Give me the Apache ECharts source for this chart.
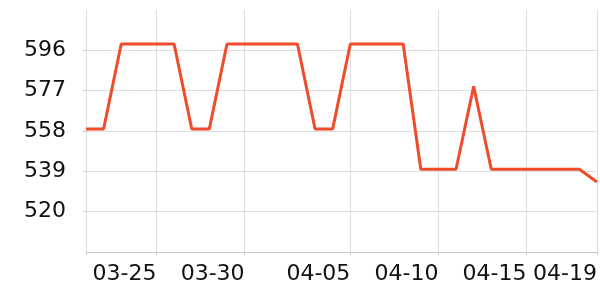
<!DOCTYPE html>
<html>
<head>
<meta charset="utf-8">
<script src="https://cdn.jsdelivr.net/npm/echarts@6/dist/echarts.min.js"></script>
<style>html,body{margin:0;padding:0;background:#fff}#c{width:600px;height:300px}</style>
</head>
<body>
<div id="c"></div>
<script>
var categories = ['03-21','03-22','03-23','03-24','03-25','03-26','03-27','03-28','03-29','03-30',
                  '03-31','04-01','04-02','04-03','04-04','04-05','04-06','04-07','04-08','04-09',
                  '04-10','04-11','04-12','04-13','04-14','04-15','04-16','04-17','04-18','04-19'];
var values = [559,559,599,599,599,599,559,559,599,599,
              599,599,599,559,559,599,599,599,599,540,
              540,540,579,540,540,540,540,540,540,534];
var xTickLabels = ['03-25','03-30','04-05','04-10','04-15','04-19'];
var yTicks = [520,539,558,577,596];

function isLabel(i, v){ return xTickLabels.indexOf(v) >= 0; }
function isTick(i, v){ return i === 0 || isLabel(i, v); }

var chart = echarts.init(document.getElementById('c'), null, {renderer:'canvas'});
chart.setOption({
  animation:false,
  grid:{left:86,right:2,top:10,bottom:48,containLabel:false},
  xAxis:{
    type:'category',boundaryGap:false,data:categories,
    axisLine:{lineStyle:{color:'#c8c8c8'}},
    axisTick:{show:true,length:3,interval:isTick,lineStyle:{color:'#c8c8c8'}},
    splitLine:{show:true,interval:isTick,lineStyle:{color:'#dedede'}},
    axisLabel:{interval:isLabel,align:'right',fontFamily:'DejaVu Sans',fontSize:22,color:'#111',margin:11}
  },
  yAxis:{
    type:'value',min:501,max:615,interval:19,
    axisLine:{show:false},
    axisTick:{show:true,length:3,lineStyle:{color:'#c8c8c8'}},
    splitLine:{show:true,showMinLine:false,showMaxLine:false,lineStyle:{color:'#dedede'}},
    axisLabel:{fontFamily:'DejaVu Sans',fontSize:22,color:'#111',margin:20,showMinLabel:false,showMaxLabel:false,
      formatter:function(v){ return yTicks.indexOf(v) >= 0 ? String(v) : ''; }}
  },
  series:[{type:'line',showSymbol:false,data:values,
    lineStyle:{color:'#ee4c2c',width:3},itemStyle:{color:'#ee4c2c'}}]
});
</script>
</body>
</html>
